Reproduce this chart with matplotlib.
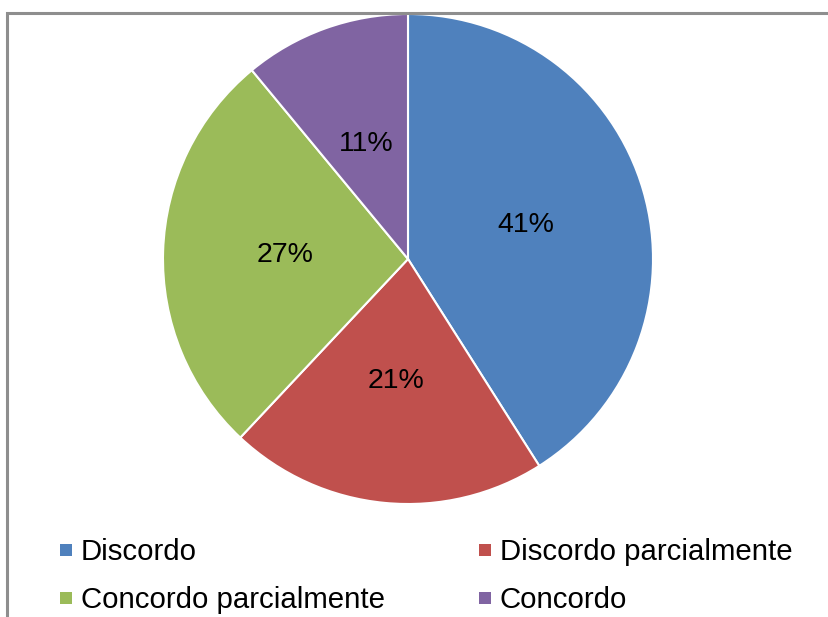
import matplotlib
matplotlib.use("Agg")
import matplotlib.pyplot as plt
from matplotlib.patches import Rectangle

plt.rcParams['font.family'] = ['Liberation Sans', 'DejaVu Sans']

labels = ["Discordo", "Discordo parcialmente", "Concordo parcialmente", "Concordo"]
values = [41, 21, 27, 11]
colors = ["#4F81BD", "#C0504D", "#9BBB59", "#8064A2"]

W, H = 829, 617
fig = plt.figure(figsize=(W / 100, H / 100), dpi=100)

# outer chart frame (runs off the right and bottom edge)
fig.patches.append(Rectangle((7 / W, -0.1), 1.2, (H - 13) / H + 0.1,
                             transform=fig.transFigure, fill=False,
                             edgecolor="#8e8e8e", linewidth=2.2))

# pie: centre (408, 259) px, radius 245 px
cx, cy, r = 408, 259, 245
ax = fig.add_axes([(cx - r) / W, (H - cy - r) / H, 2 * r / W, 2 * r / H])
wedges, texts, autotexts = ax.pie(values, colors=colors, startangle=90,
                                  counterclock=False, autopct="%d%%",
                                  pctdistance=0.5,
                                  wedgeprops=dict(edgecolor="white", linewidth=1.5),
                                  textprops=dict(fontsize=20.5, color="black"))
ax.set_xlim(-1, 1)
ax.set_ylim(-1, 1)
ax.axis("off")

# legend, two columns, row-wise order
col_x = [60, 479]
row_y = [550, 598]
for i, (lab, col) in enumerate(zip(labels, colors)):
    x = col_x[i % 2]
    y = row_y[i // 2]
    fig.patches.append(Rectangle((x / W, (H - y - 6) / H), 12 / W, 12 / H,
                                 transform=fig.transFigure, facecolor=col,
                                 edgecolor="none"))
    fig.text((x + 21) / W, (H - y - 10) / H, lab, fontsize=21.2,
             va="baseline", ha="left")

fig.savefig("out.png", dpi=100)
